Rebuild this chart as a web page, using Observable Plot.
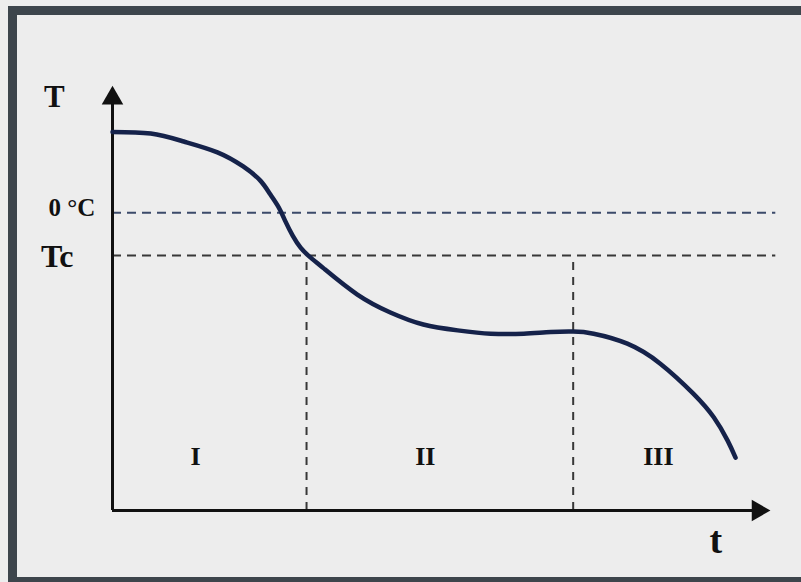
<!DOCTYPE html>
<html>
<head>
<meta charset="utf-8">
<script src="https://cdn.jsdelivr.net/npm/d3@7"></script>
<script src="https://cdn.jsdelivr.net/npm/@observablehq/plot@0.6"></script>
<style>
  html, body { margin: 0; padding: 0; background: #ededed; overflow: hidden; width: 801px; height: 582px; }
  #wrap { position: relative; width: 801px; height: 582px; overflow: hidden; }
  #chart svg { display: block; }
  #border { position: absolute; left: 8px; top: 6px; width: 793px; height: 576px;
            border-left: 9px solid #3d454c; border-top: 9px solid #3d454c; border-bottom: 5px solid #3d454c;
            border-right: 0; box-sizing: border-box; pointer-events: none; }
</style>
</head>
<body>
<div id="wrap"><div id="chart"></div><div id="border"></div></div>
<script>
// Cooling curve (arbitrary units): time t and temperature T
const timeValues = [0, 0.58, 1.08, 1.59, 1.98, 2.24, 2.39, 2.52, 2.62, 2.73, 2.85, 2.98, 3.20, 3.71, 4.21, 4.71, 5.23, 5.73, 6.23, 6.64, 6.98, 7.29, 7.80, 8.30, 8.80, 9.11, 9.32, 9.44];
const tempValues = [9.10, 9.06, 8.87, 8.61, 8.27, 7.93, 7.60, 7.28, 6.95, 6.61, 6.32, 6.11, 5.82, 5.19, 4.76, 4.47, 4.33, 4.25, 4.25, 4.29, 4.30, 4.25, 4.01, 3.53, 2.81, 2.24, 1.68, 1.27];

// Reference levels
const zeroCelsius = 7.16;
const tcLevel = 6.13;
const dashEnd = 10.05;
// Phase boundaries in time
const phaseBounds = [2.94, 6.98];

// Axis extents (arrow heads)
const yAxisTop = 9.91;
const xAxisEnd = 9.78;

// Phase labels
const phaseNames = ["I", "II", "III"];
const phaseX = [1.26, 4.74, 8.27];
const phaseY = [1.30, 1.30, 1.30];

// Axis / level labels
const levelLabels = ["0 °C", "Tc"];
const levelLabelX = [-0.26, -0.59];
const levelLabelY = [7.27, 6.11];
const levelLabelSize = [25, 32];

const curve = timeValues.map((t, i) => ({t, T: tempValues[i]}));
const phases = phaseNames.map((name, i) => ({name, x: phaseX[i], y: phaseY[i]}));
const levels = levelLabels.map((name, i) => ({name, x: levelLabelX[i], y: levelLabelY[i], size: levelLabelSize[i]}));

const font = "'Liberation Serif', 'Times New Roman', serif";

const chart = Plot.plot({
  width: 801,
  height: 582,
  margin: 0,
  style: {background: "#ededed", fontFamily: font},
  x: {domain: [0, 10], range: [112, 772], axis: null},
  y: {domain: [0, 10], range: [510, 94], axis: null},
  marks: [
    // dashed reference levels
    Plot.ruleY([zeroCelsius], {x1: 0, x2: dashEnd, stroke: "#3b4a6a", strokeWidth: 2, strokeDasharray: "9,6"}),
    Plot.ruleY([tcLevel], {x1: 0, x2: dashEnd, stroke: "#383838", strokeWidth: 2, strokeDasharray: "9,6"}),
    Plot.ruleX(phaseBounds, {y1: 0, y2: tcLevel, stroke: "#383838", strokeWidth: 2, strokeDasharray: "8,7"}),
    // axes
    Plot.ruleX([0], {y1: 0, y2: yAxisTop, stroke: "#111", strokeWidth: 3}),
    Plot.ruleY([0], {x1: 0, x2: xAxisEnd, stroke: "#111", strokeWidth: 3}),
    Plot.dot([{x: 0, y: yAxisTop}], {x: "x", y: "y", symbol: "triangle", r: 8, fill: "#111", stroke: "none", rotate: 0}),
    Plot.dot([{x: xAxisEnd, y: 0}], {x: "x", y: "y", symbol: "triangle", r: 8, fill: "#111", stroke: "none", rotate: 90}),
    // cooling curve
    Plot.line(curve, {x: "t", y: "T", curve: "natural", stroke: "#15224a", strokeWidth: 4.5, strokeLinecap: "round"}),
    // labels
    Plot.text(["T"], {x: -0.88, y: 9.95, text: d => d, fontSize: 31, fontWeight: "bold", fill: "#111"}),
    Plot.text(["t"], {x: 9.14, y: -0.72, text: d => d, fontSize: 38, fontWeight: "bold", fill: "#111"}),
    Plot.text(levels, {x: "x", y: "y", text: "name", fontSize: "size", fontWeight: "bold", textAnchor: "end", fill: "#111"}),
    Plot.text(phases, {x: "x", y: "y", text: "name", fontSize: 26, fontWeight: "bold", fill: "#111"})
  ]
});
document.getElementById("chart").appendChild(chart);
</script>
</body>
</html>
